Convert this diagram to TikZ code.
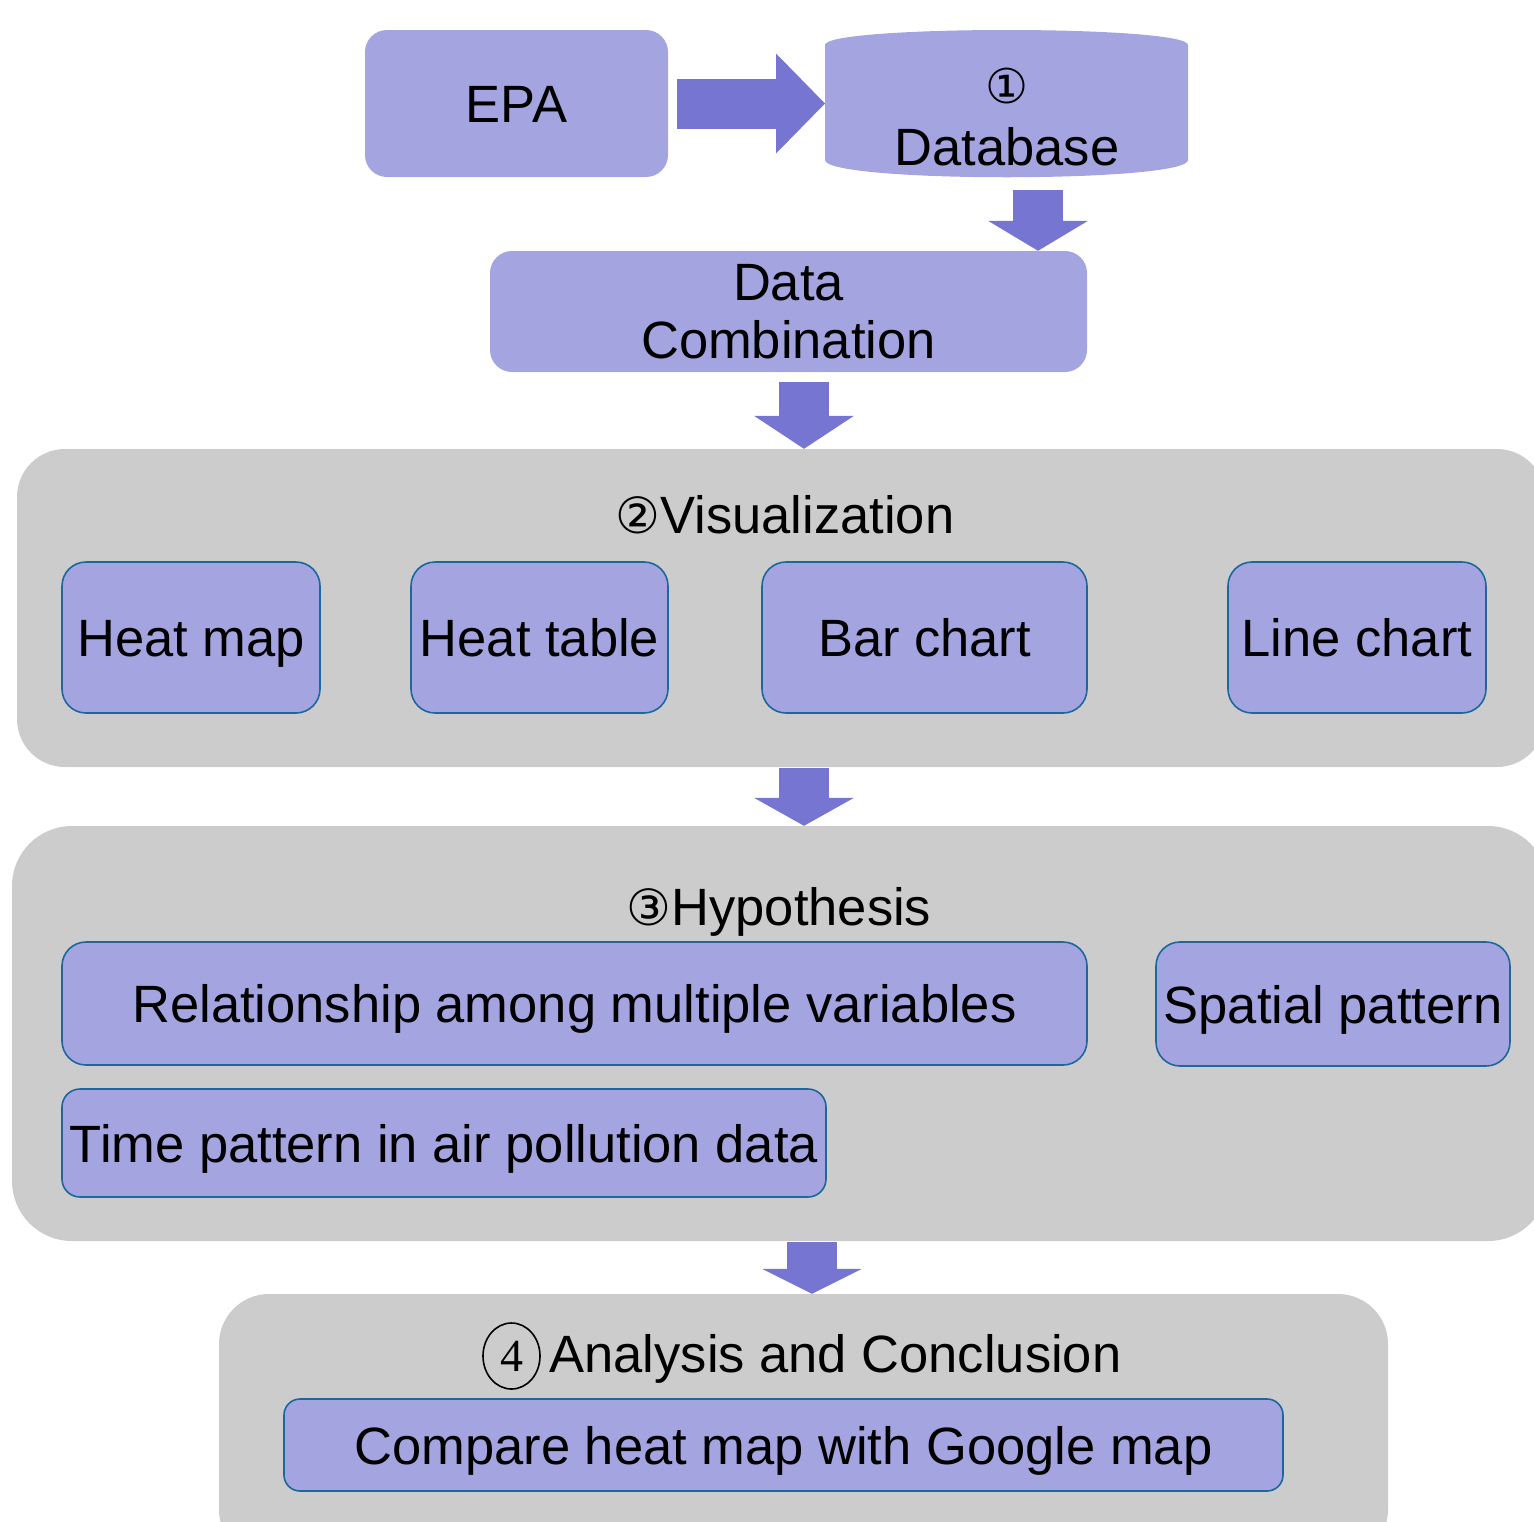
\documentclass[tikz,border=0pt]{standalone}
\usepackage{fontspec}
\setmainfont{Liberation Sans}
\newfontfamily\djv{DejaVu Sans}
\newfontfamily\serifnum{Liberation Serif}
\usetikzlibrary{arrows.meta,calc,shapes.geometric}
\definecolor{lav}{RGB}{164,164,224}
\definecolor{arr}{RGB}{118,118,210}
\definecolor{grp}{RGB}{204,204,204}
\definecolor{edgeb}{RGB}{28,104,156}
\newcommand\circnum[2]{{\djv\fontsize{#1}{#1}\selectfont #2}}
\begin{document}
\begin{tikzpicture}[x=1pt,y=-1pt,
  lavbox/.style={fill=lav, rounded corners=22pt, inner sep=0pt, align=center, font=\fontsize{52.5}{64}\selectfont},
  subbox/.style={lavbox, draw=edgeb, line width=1.6pt, rounded corners=24pt, text height=38pt, text depth=0pt},
  grpbox/.style={fill=grp, inner sep=0pt},
  ttl/.style={font=\fontsize{52.5}{64}\selectfont, inner sep=0pt, text height=38pt, text depth=0pt},
  fat/.style={draw=arr, line width=50pt, -{Triangle[length=#1, width=100pt, line width=0pt]}},
  fat/.default=30pt
]
\useasboundingbox (0,0) rectangle (1534,1521);
\clip (0,0) rectangle (1534,1521);

% top row
\node[lavbox, minimum width=303pt, minimum height=147pt, text height=38pt, text depth=0pt] (epa) at (516.5,103.5) {EPA};
\fill[lav] (825,45) .. controls (825,25) and (1188,25) .. (1188,45) -- (1188,160)
  .. controls (1188,183) and (825,183) .. (825,160) -- cycle;
\node[ttl, align=center, font=\fontsize{52.5}{62}\selectfont, text height=90pt] (db) at (1007,120) {\circnum{48}{①}\\Database};
\coordinate (dbw) at (825,103.5);
\draw[fat=49pt] (epa.east) ++(9,0) -- (dbw);

\node[lavbox, minimum width=597pt, minimum height=121pt, font=\fontsize{52.5}{58}\selectfont, text height=93pt, text depth=0pt] (dc) at (788.5,311.5) {Data\\Combination};
\coordinate (a1) at (1038,190);
\draw[fat] (a1) -- (a1 |- dc.north);

% visualization
\node[grpbox, rounded corners=48pt, minimum width=1528pt, minimum height=318pt] (vis) at (781,608) {};
\coordinate (a2) at (804,382);
\draw[fat=33pt] (a2) -- (a2 |- vis.north);
\node[ttl] (vist) at (785,514) {\circnum{50}{②}Visualization};
\node[subbox, minimum width=258pt, minimum height=151pt] (hm) at (191,637.5) {Heat map};
\node[subbox, minimum width=257pt, minimum height=151pt] (ht) at (539.5,637.5) {Heat table};
\node[subbox, minimum width=325pt, minimum height=151pt] (bc) at (924.5,637.5) {Bar chart};
\node[subbox, minimum width=258pt, minimum height=151pt] (lc) at (1357,637.5) {Line chart};

% hypothesis
\node[grpbox, rounded corners=60pt, minimum width=1536pt, minimum height=415pt] (hyp) at (780,1033.5) {};
\coordinate (a3) at (804,768);
\draw[fat=28pt] (a3) -- (a3 |- hyp.north);
\node[ttl] (hypt) at (779,906) {\circnum{50}{③}Hypothesis};
\node[subbox, minimum width=1025pt, minimum height=123pt] (rel) at (574.5,1003.5) {Relationship among multiple variables};
\node[subbox, minimum width=354pt, minimum height=124pt] (sp) at (1333,1004) {Spatial pattern};
\node[subbox, rounded corners=18pt, minimum width=764pt, minimum height=108pt] (tp) at (444,1143) {Time pattern in air pollution data};

% analysis
\node[grpbox, rounded corners=50pt, minimum width=1169pt, minimum height=266pt] (ana) at (803.5,1427) {};
\coordinate (a4) at (812,1242);
\draw[fat=25pt] (a4) -- (a4 |- ana.north);
\node[draw, ellipse, line width=1.6pt, inner sep=0pt, minimum width=57pt, minimum height=66pt, font=\serifnum\fontsize{46}{46}\selectfont] (n4) at (511.5,1356) {4};
\node[ttl] (anat) at (835.5,1353) {Analysis and Conclusion};
\node[subbox, rounded corners=16pt, minimum width=999pt, minimum height=92pt] (cmp) at (783.5,1445) {Compare heat map with Google map};
\end{tikzpicture}
\end{document}
